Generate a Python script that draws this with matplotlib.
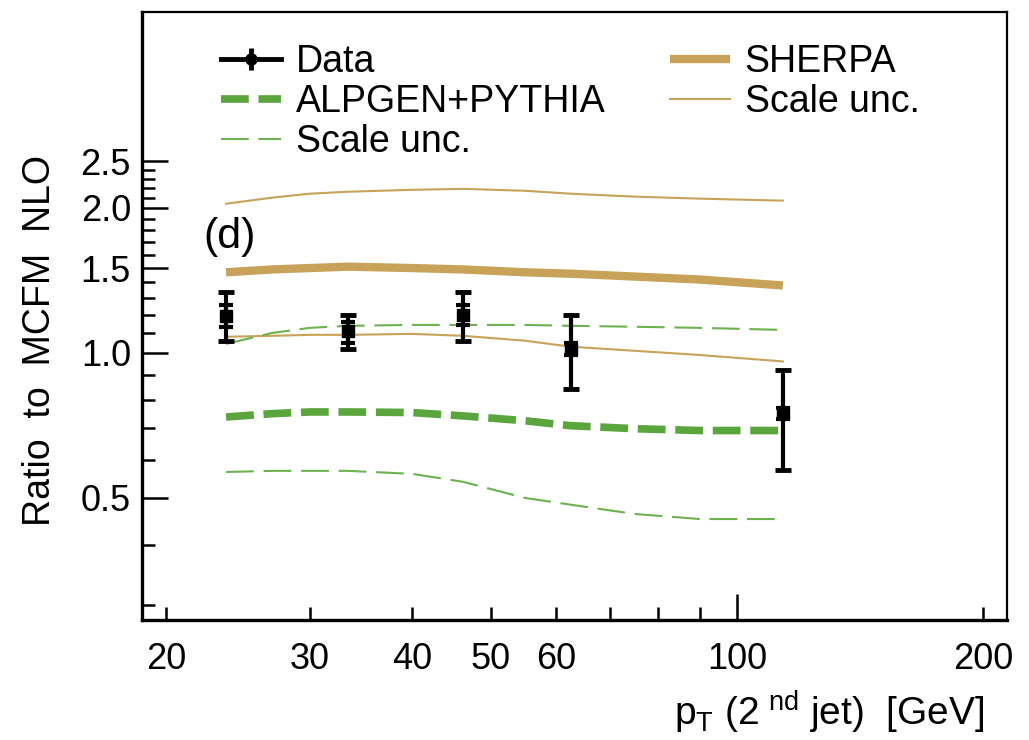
import matplotlib
matplotlib.use("Agg")
import matplotlib.pyplot as plt
from matplotlib.lines import Line2D
from matplotlib.legend_handler import HandlerTuple
from matplotlib.ticker import FixedLocator, FixedFormatter

plt.rcParams['font.family'] = ['Liberation Sans', 'DejaVu Sans']
plt.rcParams['mathtext.fontset'] = 'custom'
plt.rcParams['mathtext.rm'] = 'Liberation Sans'
plt.rcParams['lines.scale_dashes'] = False

# Data points (ratio to MCFM NLO)
data_pt = [23.7, 33.4, 46.2, 62.6, 113.8]
data_ratio = [1.19, 1.11, 1.20, 1.02, 0.75]
data_tot_hi = [1.34, 1.20, 1.34, 1.20, 0.92]
data_tot_lo = [1.06, 1.02, 1.06, 0.84, 0.57]
data_stat_hi = [1.26, 1.16, 1.26, 1.05, 0.77]
data_stat_lo = [1.13, 1.05, 1.14, 0.99, 0.73]

# Theory curves sampled along pT
curve_pt = [23.7, 27, 30, 33.4, 40, 46.2, 55, 62.6, 75, 90, 113.8]
sherpa = [1.47, 1.49, 1.50, 1.51, 1.50, 1.49, 1.47, 1.46, 1.44, 1.42, 1.38]
sherpa_up = [2.04, 2.10, 2.14, 2.16, 2.18, 2.19, 2.17, 2.14, 2.11, 2.09, 2.07]
sherpa_dn = [1.08, 1.085, 1.09, 1.09, 1.095, 1.085, 1.06, 1.03, 1.01, 0.99, 0.96]
alpgen = [0.736, 0.748, 0.754, 0.754, 0.752, 0.740, 0.723, 0.706, 0.696, 0.69, 0.69]
alpgen_up = [1.044, 1.10, 1.127, 1.138, 1.143, 1.143, 1.143, 1.138, 1.133, 1.127, 1.116]
alpgen_dn = [0.566, 0.569, 0.569, 0.569, 0.561, 0.540, 0.500, 0.484, 0.463, 0.452, 0.452]

x_labels = ['20', '30', '40', '50', '60', '100', '200']
x_label_pos = [20, 30, 40, 50, 60, 100, 200]
x_minor_pos = [70, 80, 90]
y_labels = ['0.5', '1.0', '1.5', '2.0', '2.5']
y_label_pos = [0.5, 1.0, 1.5, 2.0, 2.5]
y_minor_pos = [0.3, 0.4, 0.6, 0.7, 0.8, 0.9, 1.1, 1.2, 1.3, 1.4,
               1.6, 1.7, 1.8, 1.9, 2.1, 2.2, 2.3, 2.4]

tan = '#c8a258'
green = '#5aa63c'
green_thin = '#6cb24f'

fig = plt.figure(figsize=(10.29, 7.40), dpi=100)
ax = fig.add_axes([0.138, 0.1622, 0.8406, 0.8216])
ax.set_xscale('log')
ax.set_yscale('log')
ax.set_xlim(18.7, 214)
ax.set_ylim(0.279, 5.1)

l_sh, = ax.plot(curve_pt, sherpa, color=tan, lw=6, solid_capstyle='butt')
l_shs, = ax.plot(curve_pt, sherpa_up, color=tan, lw=1.5)
ax.plot(curve_pt, sherpa_dn, color=tan, lw=1.5)
l_al, = ax.plot(curve_pt, alpgen, color=green, lw=5.5, dashes=(20, 7),
                dash_capstyle='butt')
l_als, = ax.plot(curve_pt, alpgen_up, color=green_thin, lw=1.5, dashes=(20, 7))
ax.plot(curve_pt, alpgen_dn, color=green_thin, lw=1.5, dashes=(20, 7))

tot_err = [[v - lo for v, lo in zip(data_ratio, data_tot_lo)],
           [hi - v for v, hi in zip(data_ratio, data_tot_hi)]]
stat_err = [[v - lo for v, lo in zip(data_ratio, data_stat_lo)],
            [hi - v for v, hi in zip(data_ratio, data_stat_hi)]]
ax.errorbar(data_pt, data_ratio, yerr=tot_err, fmt='s', color='black',
            ms=9, elinewidth=3, capsize=5.5, capthick=3.5, zorder=5)
ax.errorbar(data_pt, data_ratio, yerr=stat_err, fmt='none', ecolor='black',
            elinewidth=3, capsize=5, capthick=3, zorder=5)

# axes styling, ROOT-like
for side in ['left', 'bottom']:
    ax.spines[side].set_linewidth(2.4)
for side in ['top', 'right']:
    ax.spines[side].set_linewidth(1.6)

ax.xaxis.set_major_locator(FixedLocator(x_label_pos))
ax.xaxis.set_major_formatter(FixedFormatter(x_labels))
ax.xaxis.set_minor_locator(FixedLocator(x_minor_pos))
ax.xaxis.set_minor_formatter(FixedFormatter([]))
ax.yaxis.set_major_locator(FixedLocator(y_label_pos))
ax.yaxis.set_major_formatter(FixedFormatter(y_labels))
ax.yaxis.set_minor_locator(FixedLocator(y_minor_pos))
ax.yaxis.set_minor_formatter(FixedFormatter([]))

ax.tick_params(axis='both', which='both', direction='in', top=False, right=False,
               width=1.8, labelsize=26)
ax.tick_params(axis='x', which='both', length=9.5, pad=16)
ax.tick_params(axis='y', which='major', length=19, pad=8)
ax.tick_params(axis='y', which='minor', length=9.5)
ax.xaxis.get_major_ticks()[5].tick1line.set_markersize(19)

fig.text(40 / 1029, 1 - 340 / 740, 'Ratio  to  MCFM  NLO', rotation=90,
         ha='center', va='center', fontsize=27)
fig.text(985 / 1029, 1 - 726 / 740,
         r'p$_{\mathregular{T}}$ (2$^{\mathregular{\ nd}}$ jet)  [GeV]',
         ha='right', va='baseline', fontsize=28)
ax.text(0.0705, 0.63, '(d)', transform=ax.transAxes, ha='left', va='center',
        fontsize=31)

# legend: Data entry as ROOT "lep" style (line + short bar + marker)
data_line = Line2D([], [], color='black', lw=3.5)
data_bar = Line2D([], [], color='black', ls='none', marker='|', ms=16, mew=3.5)
data_mark = Line2D([], [], color='black', ls='none', marker='o', ms=8)
leg1 = ax.legend([(data_line, data_bar, data_mark), l_al, l_als],
                 ['Data', 'ALPGEN+PYTHIA', 'Scale unc.'],
                 handler_map={tuple: HandlerTuple(ndivide=1)},
                 loc='upper left', bbox_to_anchor=(0.091, 0.947), frameon=False,
                 fontsize=27, handlelength=1.6, handletextpad=0.4,
                 labelspacing=0.1, borderpad=0, borderaxespad=0)
ax.add_artist(leg1)
ax.legend([l_sh, l_shs], ['SHERPA', 'Scale unc.'],
          loc='upper left', bbox_to_anchor=(0.61, 0.947), frameon=False,
          fontsize=27, handlelength=1.6, handletextpad=0.4,
          labelspacing=0.1, borderpad=0, borderaxespad=0)

fig.savefig('out.png', dpi=100)
